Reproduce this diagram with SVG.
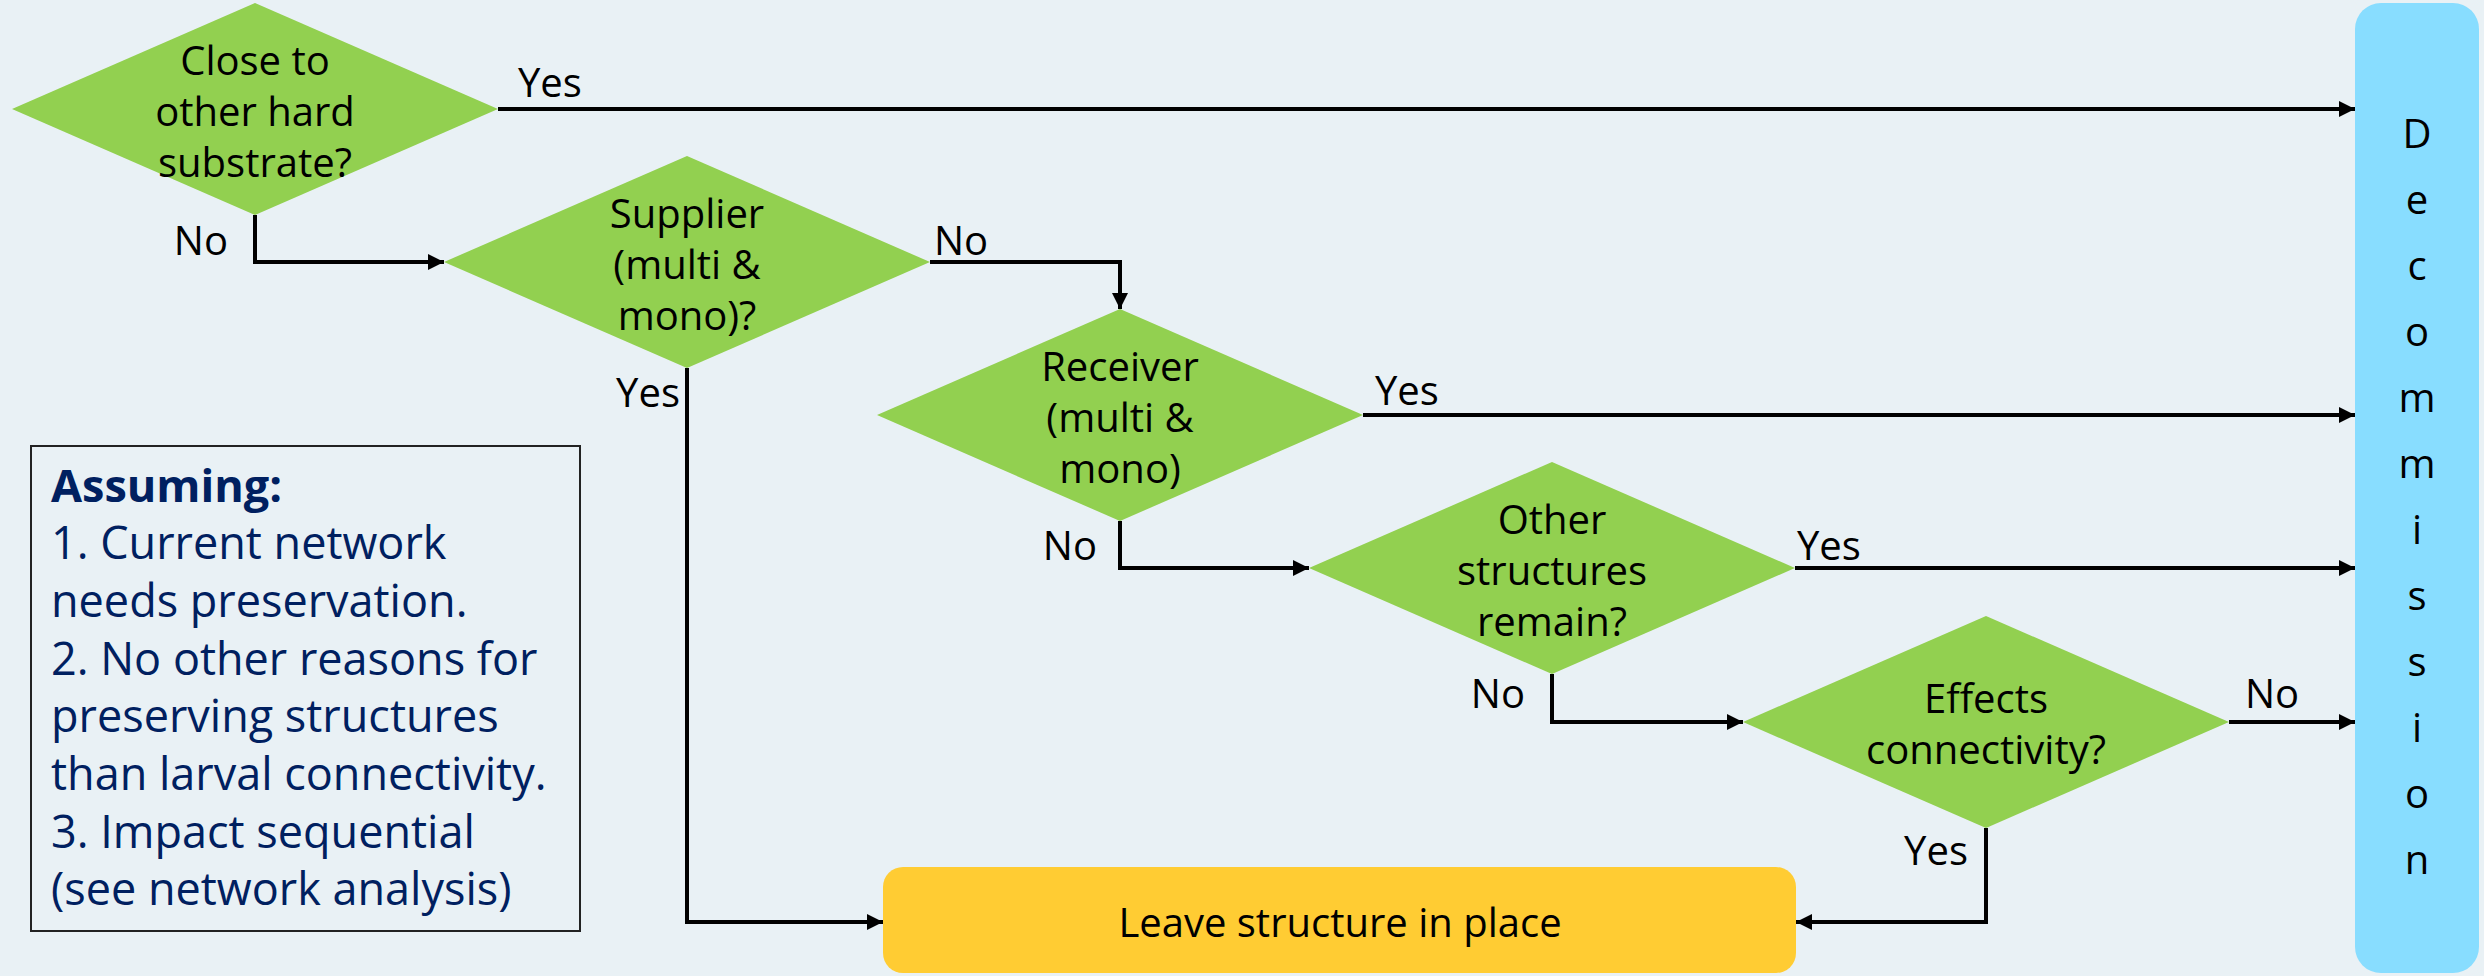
<svg xmlns="http://www.w3.org/2000/svg" width="2484" height="976" viewBox="0 0 2484 976">
<defs>
<style>
.bg{fill:#E9F1F5}
.dia{fill:#92D050}
.t{font-family:"Open Sans","Noto Sans","Liberation Sans",sans-serif;font-size:40px;fill:#000}
.c{text-anchor:middle}
.e{text-anchor:end}
.con{fill:none;stroke:#000;stroke-width:4}
.note{font-family:"Open Sans","Noto Sans","Liberation Sans",sans-serif;font-size:45px;fill:#002060}
</style>
<marker id="ah" markerUnits="userSpaceOnUse" markerWidth="18" markerHeight="18" refX="16" refY="9" orient="auto">
<path d="M0,1 L16,9 L0,17 z" fill="#000"/>
</marker>
</defs>
<rect class="bg" x="0" y="0" width="2484" height="976"/>

<g id="decommission">
<rect x="2355" y="3" width="124" height="970" rx="26" fill="#88DDFF"/>
<text class="t c" x="2417" y="148">D</text>
<text class="t c" x="2417" y="214">e</text>
<text class="t c" x="2417" y="280">c</text>
<text class="t c" x="2417" y="346">o</text>
<text class="t c" x="2417" y="412">m</text>
<text class="t c" x="2417" y="478">m</text>
<text class="t c" x="2417" y="544">i</text>
<text class="t c" x="2417" y="610">s</text>
<text class="t c" x="2417" y="676">s</text>
<text class="t c" x="2417" y="742">i</text>
<text class="t c" x="2417" y="808">o</text>
<text class="t c" x="2417" y="874">n</text>
</g>

<g id="leave">
<rect x="883" y="867" width="913" height="106" rx="20" fill="#FFCC33"/>
<text class="t c" x="1340" y="937">Leave structure in place</text>
</g>

<g id="d1">
<polygon class="dia" points="255,3 498,109 255,215 12,109"/>
<text class="t c" x="255" y="75">Close to</text>
<text class="t c" x="255" y="126">other hard</text>
<text class="t c" x="255" y="177">substrate?</text>
</g>

<g id="d2">
<polygon class="dia" points="687,156 930,262 687,368 444,262"/>
<text class="t c" x="687" y="228">Supplier</text>
<text class="t c" x="687" y="279">(multi &amp;</text>
<text class="t c" x="687" y="330">mono)?</text>
</g>

<g id="d3">
<polygon class="dia" points="1120,309 1363,415 1120,521 877,415"/>
<text class="t c" x="1120" y="381">Receiver</text>
<text class="t c" x="1120" y="432">(multi &amp;</text>
<text class="t c" x="1120" y="483">mono)</text>
</g>

<g id="d4">
<polygon class="dia" points="1552,462 1795,568 1552,674 1309,568"/>
<text class="t c" x="1552" y="534">Other</text>
<text class="t c" x="1552" y="585">structures</text>
<text class="t c" x="1552" y="636">remain?</text>
</g>

<g id="d5">
<polygon class="dia" points="1986,616 2229,722 1986,828 1743,722"/>
<text class="t c" x="1986" y="713">Effects</text>
<text class="t c" x="1986" y="764">connectivity?</text>
</g>

<g id="assumptions">
<rect x="31" y="446" width="549" height="485" fill="none" stroke="#222" stroke-width="2"/>
<text class="note" x="51" y="502" font-weight="bold">Assuming:</text>
<text class="note" x="51" y="559">1. Current network</text>
<text class="note" x="51" y="617">needs preservation.</text>
<text class="note" x="51" y="675">2. No other reasons for</text>
<text class="note" x="51" y="732">preserving structures</text>
<text class="note" x="51" y="790">than larval connectivity.</text>
<text class="note" x="51" y="848">3. Impact sequential</text>
<text class="note" x="51" y="905">(see network analysis)</text>
</g>

<g id="connectors">
<path class="con" d="M498,109 H2355" marker-end="url(#ah)"/>
<path class="con" d="M255,215 V262 H444" marker-end="url(#ah)"/>
<path class="con" d="M930,262 H1120 V309" marker-end="url(#ah)"/>
<path class="con" d="M687,368 V922 H883" marker-end="url(#ah)"/>
<path class="con" d="M1363,415 H2355" marker-end="url(#ah)"/>
<path class="con" d="M1120,521 V568 H1309" marker-end="url(#ah)"/>
<path class="con" d="M1795,568 H2355" marker-end="url(#ah)"/>
<path class="con" d="M1552,674 V722 H1743" marker-end="url(#ah)"/>
<path class="con" d="M2229,722 H2355" marker-end="url(#ah)"/>
<path class="con" d="M1986,828 V922 H1796" marker-end="url(#ah)"/>
<text class="t" x="518" y="97">Yes</text>
<text class="t e" x="228" y="255">No</text>
<text class="t" x="934" y="255">No</text>
<text class="t e" x="680" y="407">Yes</text>
<text class="t" x="1375" y="405">Yes</text>
<text class="t e" x="1097" y="560">No</text>
<text class="t" x="1797" y="560">Yes</text>
<text class="t e" x="1525" y="708">No</text>
<text class="t" x="2245" y="708">No</text>
<text class="t e" x="1968" y="865">Yes</text>
</g>
</svg>
